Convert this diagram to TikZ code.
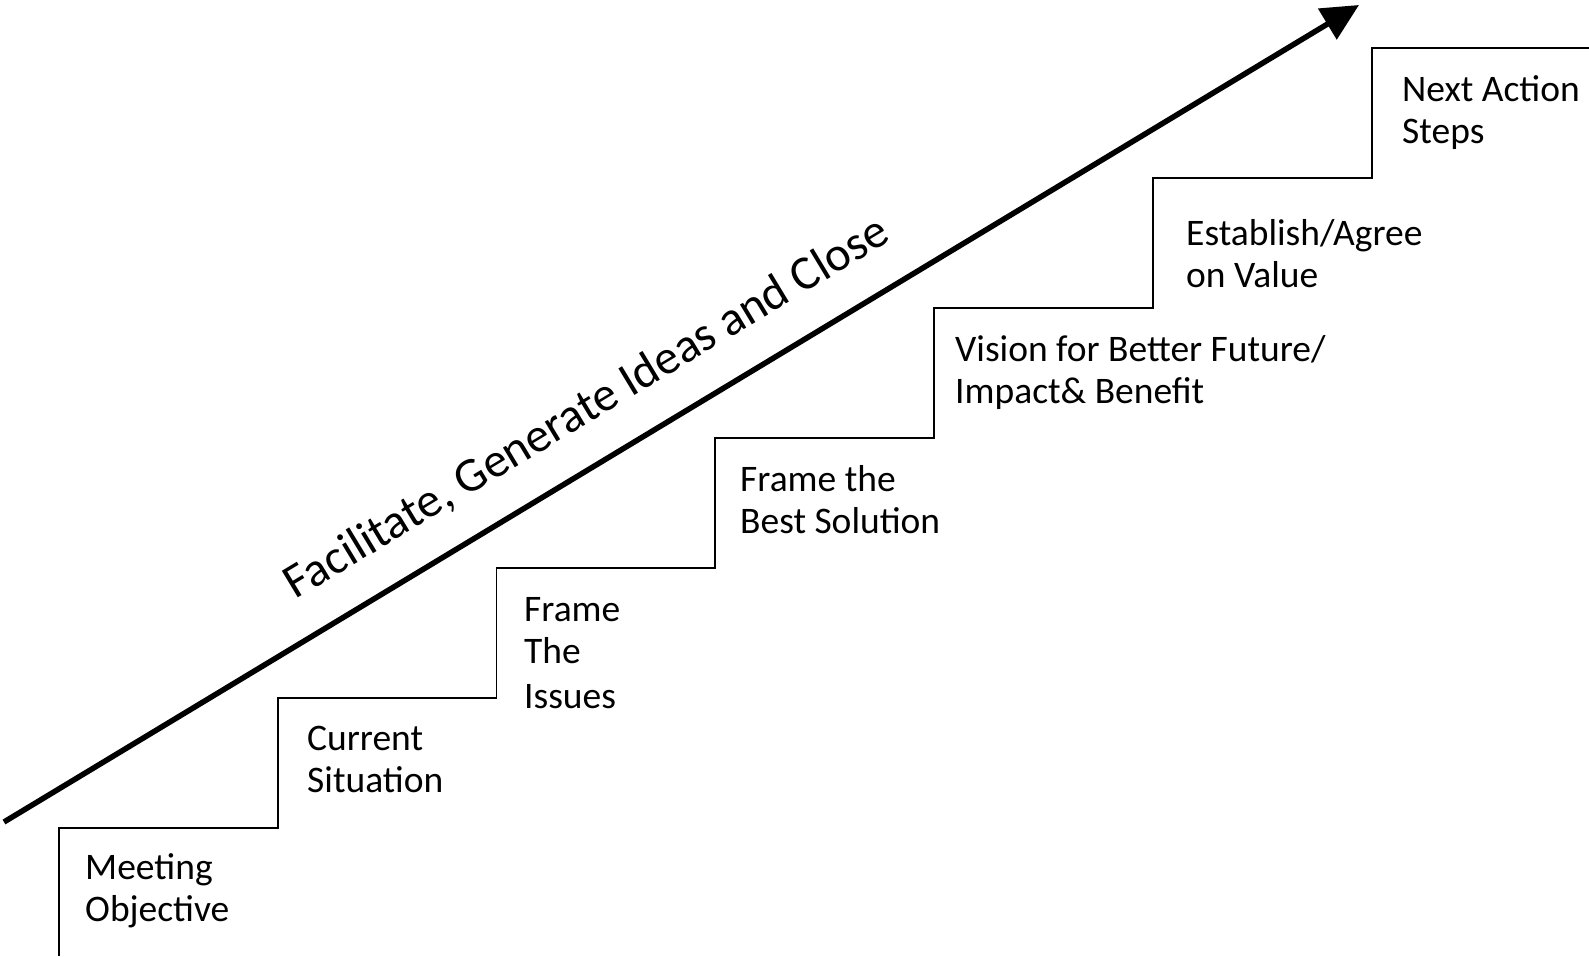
\documentclass[tikz,border=0pt]{standalone}
\usepackage{fontspec}
\setmainfont{Carlito}
\usetikzlibrary{positioning,arrows.meta}

\begin{document}
\begin{tikzpicture}[x=1pt,y=1pt,
  stairline/.style={line width=1.8, line join=miter},
  steplabel/.style={anchor=base west, align=left, inner sep=0, font=\fontsize{37.5}{42}\selectfont},
  bigarrow/.style={line width=5.5, -{Triangle[length=37pt,width=35pt]}},
  arrowlabel/.style={anchor=base, inner sep=0, rotate=31.1, font=\fontsize{48.3}{58}\selectfont}]
\useasboundingbox (0,0) rectangle (1589,-956);
\draw[stairline](59,-956) -- (59,-828) -- (277.6,-828) -- (277.6,-698) -- (496.4,-698) -- (496.4,-568) -- (715.2,-568) -- (715.2,-438) -- (934,-438) -- (934,-308) -- (1152.8,-308) -- (1152.8,-178) -- (1371.6,-178) -- (1371.6,-48) -- (1589,-48);
\node[steplabel] (meeting) at (85,-921.5) {Meeting\\Objective};
\node[steplabel] (current) at (307,-792.5) {Current\\Situation};
\node[steplabel] (issues) at (524,-708) {Frame\\The\\[3pt]Issues};
\node[steplabel] (solution) at (740,-533) {Frame the\\Best Solution};
\node[steplabel] (vision) at (955,-403) {Vision for Better Future/\\Impact\& Benefit};
\node[steplabel] (value) at (1186,-287) {Establish/Agree\\on Value};
\node[steplabel] (nextsteps) at (1402,-143) {Next Action\\Steps};
\coordinate (arrowstart) at (4,-822);
\coordinate (arrowtip) at (1359,-5);
\draw[bigarrow] (arrowstart) -- (arrowtip);
\node[arrowlabel] (slogan) at (594,-420) {Facilitate, Generate Ideas and Close};
\end{tikzpicture}
\end{document}
